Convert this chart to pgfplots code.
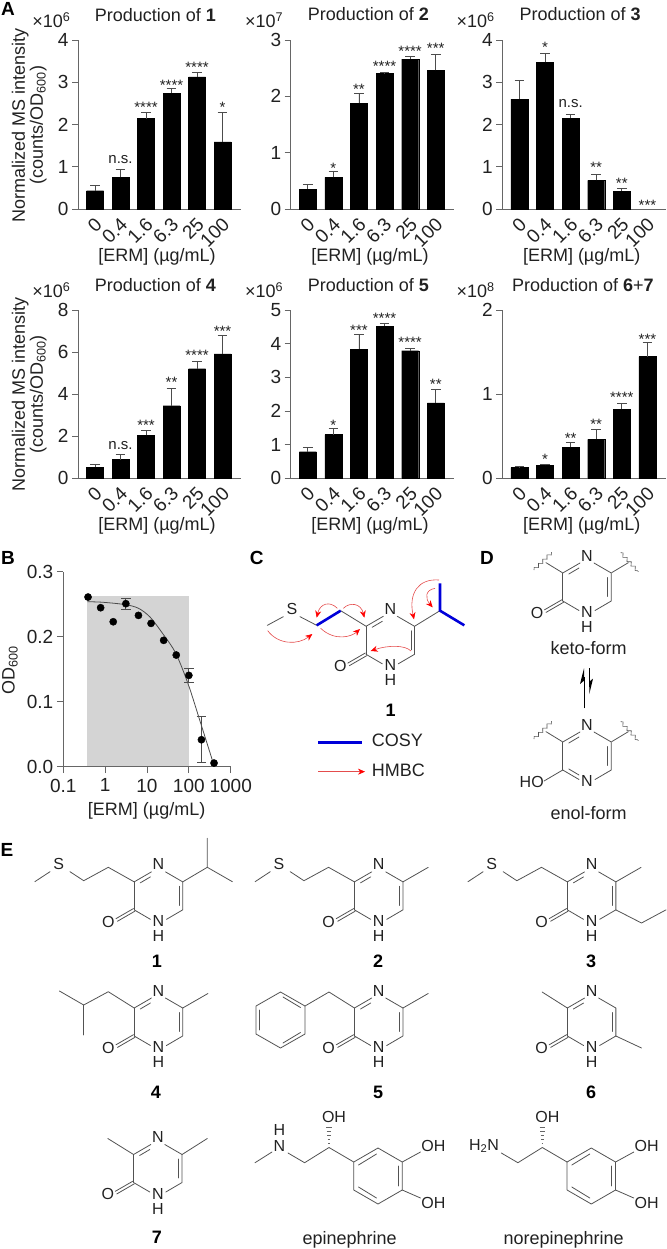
\documentclass[border=0pt]{standalone}
\usepackage{fontspec}
\setmainfont{Liberation Sans}
\usepackage{pgfplots}
\pgfplotsset{compat=1.18}
\usetikzlibrary{arrows.meta,decorations.pathmorphing}
\newcommand{\fs}[1]{\fontsize{#1}{#1}\selectfont}
\definecolor{ax}{gray}{0.4}
\definecolor{ink}{gray}{0.13}
\pgfplotsset{
 base/.style={
  scale only axis,
  axis x line*=bottom, axis y line*=left,
  axis line style={ax,line width=0.8pt},
  every tick/.style={ax,line width=0.8pt},
  tick align=outside, major tick length=6pt, minor tick length=3.5pt,
  tick label style={font=\fs{19},text=ink},
  label style={font=\fs{18},text=ink},
  title style={font=\fs{18},text=ink},
  clip=false,
 },
 panel/.style={
  base, width=163pt, height=169pt,
  xmin=-0.667, xmax=5.725, ymin=0,
  xtick={0,1,2,3,4,5}, xticklabels={0,0.4,1.6,6.3,25,100},
  xtick style={draw=none},
  x tick label style={rotate=45,anchor=east,xshift=1.5pt,yshift=-7pt},
  ybar, bar width=17pt,
  title style={at={(axis description cs:0.475,1.115)},anchor=center},
  xlabel={[ERM] (µg/mL)},
  xlabel style={at={(axis description cs:0.485,-0.285)},anchor=center},
 },
 ylab/.style={ylabel={Normalized MS intensity\\(counts/OD\textsubscript{600})},
  ylabel style={at={(axis description cs:-0.30,0.497)},anchor=center,align=center,rotate=0}},
 mag/.style={extra description/.code={\node[font=\fs{18},text=ink,anchor=center] at (axis description cs:-0.163,1.118) {×10\textsuperscript{#1}};}},
 bars/.style={fill=black,draw=black,line width=0.3pt,
  error bars/.cd,y dir=plus,y explicit,
  error bar style={black!70,line width=0.8pt},
  error mark options={rotate=90,black!70,mark size=4.8pt,line width=0.8pt}},
}
\tikzset{
 st/.style={font=\fs{15},text=ink,inner sep=0pt,yshift=-3.5pt,anchor=center},
 ns/.style={font=\fs{15},text=ink,inner sep=0pt,anchor=center},
 bd/.style={draw=black!68,line width=0.8pt,line cap=round,line join=round},
 atm/.style={font=\fs{16},text=ink,inner sep=0pt,anchor=center},
 tx/.style={font=\fs{18},text=ink,inner sep=0pt,anchor=center},
 big/.style={font=\fs{19}\bfseries,text=black,inner sep=0pt,anchor=center},
 hm/.style={draw=red!85!black!70,line width=0.6pt,-{Stealth[length=7pt,width=6pt,fill=red,red]}},
 cosy/.style={draw=blue!85!black,line width=2.6pt,line cap=butt},
}
% pyrazinone ring, local coordinates round its centre
\newcommand{\ringcore}{%
 \draw[bd] (-24.25,-14)--(-24.25,14);
 \draw[bd] (-24.25,-14)--(-7,-24);
 \draw[bd] (7,-24)--(24.25,-14)--(24.25,14)--(8,23.5);
 \draw[bd] (-8,23.5)--(-24.25,14);
 \draw[bd] (-18.2,-13)--(-8,-19);
 \draw[bd] (20.6,-9.5)--(20.6,9.5);
 \node[atm] at (0,-31.5) {N};
 \node[atm] at (0,25) {N};
}
\newcommand{\keto}{%
 \ringcore
 \node[atm] at (0,40) {H};
 \node[atm] at (-50,25.8) {O};
 \draw[bd] (-23.5,15.3)--(-41,25.4);
 \draw[bd] (-25,12.7)--(-42.5,22.8);
}
\newcommand{\sechain}{%
 \draw[bd] (-24.25,-14)--(-50.15,-28.55)--(-74.75,-15.15)--(-88.45,-24.15);
 \draw[bd] (-108.45,-24.15)--(-123.65,-14.15);
 \node[atm] at (-99.85,-31.55) {S};
}
\newcommand{\catechol}{%
 \draw[bd] (378,1148)--(402.25,1162)--(402.25,1190)--(378,1204)--(353.75,1190)--(353.75,1162)--cycle;
 \draw[bd] (398.5,1166)--(398.5,1186);
 \draw[bd] (358.5,1165)--(376.5,1154);
 \draw[bd] (358.5,1187)--(376.5,1198);
 \draw[bd] (353.75,1162)--(329,1147.5)--(304.6,1162.7);
 \draw[bd] (402.25,1162)--(420.5,1152);
 \draw[bd] (402.25,1190)--(420.5,1198);
 \node[atm] at (433.3,1146) {OH};
 \node[atm] at (433.3,1202.7) {OH};
 \node[atm] at (334,1117) {OH};
 \foreach \yy/\ww in {1143/0.8,1139/1.3,1135/1.8,1131/2.3,1127/2.8}
   \draw[black!60,line width=0.8pt] (329-\ww,\yy)--(329+\ww,\yy);
}
\begin{document}
\begin{tikzpicture}
\useasboundingbox (0pt,0pt) rectangle (666pt,-1249pt);

% ---------- panel A
\begin{axis}[panel,ylab,mag=6,at={(78pt,-209pt)},anchor=south west,ymax=4,
 ytick={0,1,2,3,4},yticklabels={0,1,2,3,4},title={Production of \textbf{1}}]
\addplot[bars] table[y error=e]{
x y e
0 0.434 0.126
1 0.75 0.19
2 2.14 0.15
3 2.74 0.11
4 3.13 0.11
5 1.59 0.69
};
\node[ns] at (axis cs:1,1.175) {n.s.};
\node[st] at (axis cs:2,2.485) {****};
\node[st] at (axis cs:3,3.0) {****};
\node[st] at (axis cs:4,3.44) {****};
\node[st] at (axis cs:5,2.485) {*};
\end{axis}
\begin{axis}[panel,mag=7,width=163.6pt,at={(290.7pt,-209pt)},anchor=south west,ymax=3,
 ytick={0,1,2,3},yticklabels={0,1,2,3},title={Production of \textbf{2}}]
\addplot[bars] table[y error=e]{
x y e
0 0.355 0.085
1 0.56 0.115
2 1.876 0.174
3 2.41 0.01
4 2.66 0.04
5 2.46 0.285
};
\node[st] at (axis cs:1,0.79) {*};
\node[st] at (axis cs:2,2.195) {**};
\node[st] at (axis cs:3,2.59) {****};
\node[st] at (axis cs:4,2.86) {****};
\node[st] at (axis cs:5,2.91) {***};
\end{axis}
\begin{axis}[panel,mag=6,width=163.7pt,at={(502.3pt,-209pt)},anchor=south west,ymax=4,
 ytick={0,1,2,3,4},yticklabels={0,1,2,3,4},title={Production of \textbf{3}}]
\addplot[bars] table[y error=e]{
x y e
0 2.6 0.45
1 3.47 0.22
2 2.146 0.094
3 0.68 0.14
4 0.426 0.054
};
\node[st] at (axis cs:1,3.905) {*};
\node[ns] at (axis cs:2,2.5) {n.s.};
\node[st] at (axis cs:3,1.065) {**};
\node[st] at (axis cs:4,0.68) {**};
\node[st] at (axis cs:5,0.17) {***};
\end{axis}
% second row
\begin{axis}[panel,ylab,mag=6,height=168.3pt,at={(78pt,-478.3pt)},anchor=south west,ymax=8,
 ytick={0,2,4,6,8},yticklabels={0,2,4,6,8},title={Production of \textbf{4}}]
\addplot[bars] table[y error=e]{
x y e
0 0.52 0.13
1 0.89 0.235
2 2.04 0.24
3 3.45 0.83
4 5.21 0.34
5 5.91 0.87
};
\node[ns] at (axis cs:1,1.55) {n.s.};
\node[st] at (axis cs:2,2.68) {***};
\node[st] at (axis cs:3,4.74) {**};
\node[st] at (axis cs:4,6.0) {****};
\node[st] at (axis cs:5,7.13) {***};
\end{axis}
\begin{axis}[panel,mag=6,width=163.6pt,height=168.3pt,at={(290.7pt,-478.3pt)},anchor=south west,ymax=5,
 ytick={0,1,2,3,4,5},yticklabels={0,1,2,3,4,5},title={Production of \textbf{5}}]
\addplot[bars] table[y error=e]{
x y e
0 0.79 0.14
1 1.30 0.175
2 3.84 0.45
3 4.52 0.07
4 3.79 0.08
5 2.24 0.40
};
\node[st] at (axis cs:1,1.69) {*};
\node[st] at (axis cs:2,4.5) {***};
\node[st] at (axis cs:3,4.85) {****};
\node[st] at (axis cs:4,4.13) {****};
\node[st] at (axis cs:5,2.89) {**};
\end{axis}
\begin{axis}[panel,mag=8,width=163.7pt,height=168.3pt,at={(502.3pt,-478.3pt)},anchor=south west,ymax=2,
 ytick={0,1,2},yticklabels={0,1,2},title={Production of \textbf{6}+\textbf{7}},
 title style={at={(axis description cs:0.492,1.115)}}]
\addplot[bars] table[y error=e]{
x y e
0 0.127 0.016
1 0.154 0.012
2 0.368 0.056
3 0.463 0.119
4 0.82 0.071
5 1.446 0.17
};
\node[st] at (axis cs:1,0.27) {*};
\node[st] at (axis cs:2,0.515) {**};
\node[st] at (axis cs:3,0.68) {**};
\node[st] at (axis cs:4,1.0) {****};
\node[st] at (axis cs:5,1.69) {***};
\end{axis}

% ---------- panel B
\begin{axis}[base,width=167.4pt,height=195pt,at={(63.3pt,-766.7pt)},anchor=south west,
 xmode=log,xmin=0.1,xmax=1000,ymin=0,ymax=0.3,
 log basis x=10,
 xtick={0.1,1,10,100,1000},xticklabels={0.1,1,10,100,1000},
 ytick={0,0.1,0.2,0.3},yticklabels={0.0,0.1,0.2,0.3},
 major tick length=6.5pt,
 x tick label style={yshift=-2pt},
 xlabel={[ERM] (µg/mL)},
 xlabel style={at={(axis description cs:0.498,-0.226)},anchor=center},
 ylabel={OD\textsubscript{600}},
 ylabel style={at={(axis description cs:-0.319,0.496)},anchor=center,rotate=0}]
\addplot[fill=black!17,draw=none] coordinates {(0.378,0.0015)(100,0.0015)(100,0.2627)(0.378,0.2627)} -- cycle;
\addplot[black!70,line width=0.8pt,smooth] coordinates {
(0.378,0.2539)(0.914,0.2529)(3.08,0.2493)(6.31,0.2436)(12.0,0.2298)(25.1,0.2026)(48.8,0.1744)(98,0.1257)(198,0.0641)(385,0.0052)};
\addplot[draw=none,mark=none,error bars/.cd,y dir=both,y explicit,
  error bar style={black!70,line width=0.8pt},
  error mark options={rotate=90,black!70,mark size=4.8pt,line width=0.8pt}]
 table[y error=e]{
x y e
3.125 0.2508 0.0088
100 0.1405 0.0105
200 0.0415 0.0354
};
\addplot[only marks,mark=*,mark size=3.6pt,black] table{
x y
0.39 0.261
0.78 0.2446
1.56 0.223
3.125 0.2508
6.25 0.2328
12.5 0.2205
25 0.1944
50 0.1718
100 0.1405
200 0.0415
400 0.0056
};
\end{axis}

\begin{scope}[x=1pt,y=-1pt]
% panel letters
\node[big] at (8,9) {A};
\node[big] at (8,557.7) {B};
\node[big] at (256.7,557.7) {C};
\node[big] at (487,557.7) {D};
\node[big] at (7,850) {E};

% ---------- panel C
\begin{scope}[shift={(390.3,640.3)}]
\keto
\end{scope}
\begin{scope}[shift={(250,520)},x=0.33333pt,y=-0.33333pt]
\draw[bd] (347,318)--(272,272);
\draw[bd] (200,316)--(150,290);
\draw[bd] (100,290)--(52,316);
\node[atm] at (126,268) {S};
\draw[bd] (495,318)--(570,272);
\draw[cosy] (272,272)--(200,316);
\draw[cosy] (570,190)--(570,272)--(643,316);
\node[font=\fs{18}\bfseries,text=black,inner sep=0pt] at (422,570) {1};
\draw[cosy] (205,668)--(335,668);
\node[tx,anchor=west] at (365,662) {COSY};
\draw[hm] (205,755)--(345,755);
\node[tx,anchor=west] at (365,752) {HMBC};
\end{scope}
\begin{scope}[shift={(255,570)},x=0.33333pt,y=-0.33333pt]
\draw[hm] (38,182) .. controls (70,225) and (130,225) .. (172,192);
\draw[hm] (197,175) .. controls (240,215) and (290,200) .. (315,177);
\draw[hm] (247,115) .. controls (225,92) and (195,100) .. (185,143);
\draw[hm] (265,115) .. controls (285,95) and (318,100) .. (328,143);
\draw[hm] (468,243) .. controls (450,225) and (400,225) .. (347,243);
\draw[hm] (552,30) .. controls (490,25) and (460,70) .. (477,148);
\draw[hm] (540,55) .. controls (510,60) and (510,85) .. (533,112);
\end{scope}

% ---------- panel D
\begin{scope}[shift={(587,587)}]
\keto
\end{scope}
\begin{scope}[shift={(587,756)}]
\ringcore
\node[atm] at (-55.3,25.7) {HO};
\draw[bd] (-24.25,14)--(-43,25);
\draw[bd] (-18.2,13)--(-8,19);
\end{scope}
\begin{scope}[shift={(250,520)},x=0.33333pt,y=-0.33333pt]
\foreach \yo in {0,507}{
 \draw[bd] (937,158+\yo)--(888,128+\yo);
 \draw[bd] (1085,158+\yo)--(1135,128+\yo);
 \draw[black!68,line width=0.6pt,decorate,decoration={snake,amplitude=1.6pt,segment length=6pt}] (852,150+\yo)--(905,97+\yo);
 \draw[black!68,line width=0.6pt,decorate,decoration={snake,amplitude=1.6pt,segment length=6pt}] (1112,98+\yo)--(1165,155+\yo);
}
\node[tx] at (1016,385) {keto-form};
\node[tx] at (1016,880) {enol-form};
\draw[black,line width=0.9pt] (1002,565)--(1002,470);
\fill[black] (1002,445)--(990,492)--(1002,482)--cycle;
\draw[black,line width=0.9pt] (1018,445)--(1018,500);
\fill[black] (1018,522)--(1029,476)--(1018,485)--cycle;
\end{scope}

% ---------- panel E
\begin{scope}[shift={(158.45,895.85)}]
\keto \sechain
\draw[bd] (24.25,-14)--(48.85,-28.55)--(48.85,-57.55);
\draw[bd] (48.85,-28.55)--(73.95,-14.15);
\end{scope}
\begin{scope}[shift={(378.7,895.85)}]
\keto \sechain
\draw[bd] (24.25,-14)--(49.5,-28.5);
\end{scope}
\begin{scope}[shift={(591.6,895.85)}]
\keto \sechain
\draw[bd] (24.25,-14)--(49.5,-28.5);
\draw[bd] (24.25,14)--(49.9,27.15)--(74.4,14);
\end{scope}
\begin{scope}[shift={(158.45,1022)}]
\keto
\draw[bd] (24.25,-14)--(49.5,-28.5);
\draw[bd] (-24.25,-14)--(-50.15,-30.3)--(-74.75,-17)--(-99,-31);
\draw[bd] (-74.75,-17)--(-74.75,13);
\end{scope}
\begin{scope}[shift={(378.7,1022)}]
\keto
\draw[bd] (24.25,-14)--(49.5,-28.5);
\draw[bd] (-24.25,-14)--(-49.7,-30)--(-73.7,-16);
\end{scope}
\draw[bd] (280.5,992)--(305,1006)--(305,1034)--(280.5,1048)--(256,1034)--(256,1006)--cycle;
\draw[bd] (259.8,1010)--(259.8,1030);
\draw[bd] (283,997)--(300.5,1007.5);
\draw[bd] (283,1043)--(300.5,1032.5);
\begin{scope}[shift={(591.6,1022)}]
\keto
\draw[bd] (-24.25,-14)--(-49.5,-30);
\draw[bd] (24.25,14)--(49.9,26);
\end{scope}
\begin{scope}[shift={(157.8,1168.5)}]
\keto
\draw[bd] (-24.25,-14)--(-50,-30);
\draw[bd] (24.25,-14)--(49.5,-30);
\end{scope}
\foreach \lx/\ly/\lt in {156.8/961.7/1,378/961.7/2,591/961.7/3,156/1092/4,378/1092/5,591/1092/6,157/1237/7}
  \node[font=\fs{18}\bfseries,text=black,inner sep=0pt] at (\lx,\ly) {\lt};

\catechol
\draw[bd] (304.6,1162.7)--(288,1153);
\draw[bd] (272,1152)--(255,1162.7);
\node[atm] at (279.5,1146) {N};
\node[atm] at (279.5,1130) {H};
\node[tx] at (349.6,1240) {epinephrine};
\begin{scope}[xshift=213.3pt]
\catechol
\draw[bd] (304.6,1162.7)--(288,1153);
\node[atm] at (270.7,1146) {H\textsubscript{2}N};
\node[tx] at (350.4,1240) {norepinephrine};
\end{scope}
\end{scope}
\end{tikzpicture}
\end{document}
